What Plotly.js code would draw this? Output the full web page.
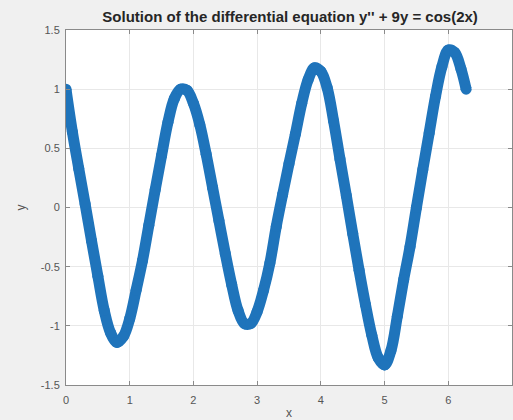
<!DOCTYPE html>
<html>
<head>
<meta charset="utf-8">
<script src="https://cdn.plot.ly/plotly-3.0.1.min.js"></script>
<style>
  html, body { margin: 0; padding: 0; background: #f0f0f0; }
  #plot { width: 513px; height: 420px; }
</style>
</head>
<body>
<div id="plot"></div>
<script>
// Sampled solution points of y'' + 9y = cos(2x) on [0, 2π]
const xValues = [
  0.0, 0.1, 0.2, 0.3, 0.4, 0.5, 0.6, 0.7, 0.8, 0.9,
  1.0, 1.1, 1.2, 1.3, 1.4, 1.5, 1.6, 1.7, 1.8, 1.9,
  2.0, 2.1, 2.2, 2.3, 2.4, 2.5, 2.6, 2.7, 2.8, 2.9,
  3.0, 3.1, 3.2, 3.3, 3.4, 3.5, 3.6, 3.7, 3.8, 3.9,
  4.0, 4.1, 4.2, 4.3, 4.4, 4.5, 4.6, 4.7, 4.8, 4.9,
  5.0, 5.1, 5.2, 5.3, 5.4, 5.5, 5.6, 5.7, 5.8, 5.9,
  6.0, 6.1, 6.2, 6.28
];
const yValues = [
  1.00, 0.64, 0.33, 0.03, -0.28, -0.58, -0.87, -1.06, -1.14, -1.09,
  -0.94, -0.70, -0.45, -0.15, 0.15, 0.44, 0.72, 0.92, 1.00, 0.99,
  0.88, 0.70, 0.45, 0.17, -0.11, -0.39, -0.65, -0.87, -0.98, -0.98,
  -0.88, -0.70, -0.47, -0.16, 0.11, 0.37, 0.62, 0.88, 1.08, 1.18,
  1.15, 1.01, 0.73, 0.41, 0.10, -0.22, -0.53, -0.82, -1.08, -1.27,
  -1.33, -1.21, -0.92, -0.61, -0.33, 0.00, 0.32, 0.63, 0.94, 1.19,
  1.33, 1.31, 1.17, 1.00
];

const xTickVals = [0, 1, 2, 3, 4, 5, 6, 7];
const xTickText = ['0', '1', '2', '3', '4', '5', '6', '7'];
const yTickVals = [-1.5, -1, -0.5, 0, 0.5, 1, 1.5];
const yTickText = ['-1.5', '-1', '-0.5', '0', '0.5', '1', '1.5'];

const FONT = 'Liberation Sans, Arial, sans-serif';
const CURVE_COLOR = '#1f74bb';

const trace = {
  x: xValues,
  y: yValues,
  type: 'scatter',
  mode: 'lines+markers',
  line: { color: CURVE_COLOR, width: 11, shape: 'spline', smoothing: 1.0 },
  marker: { color: CURVE_COLOR, size: 11, symbol: 'circle', line: { width: 0 } },
  hoverinfo: 'skip'
};

const axisCommon = {
  showline: true,
  linecolor: '#8a8a8a',
  linewidth: 1,
  mirror: 'ticks',
  ticks: 'inside',
  ticklen: 4,
  tickcolor: '#8a8a8a',
  showgrid: true,
  gridcolor: '#e8e8e8',
  gridwidth: 1,
  zeroline: false,
  tickfont: { family: FONT, size: 11, color: '#555555' }
};

const layout = {
  width: 513,
  height: 420,
  margin: { l: 66, r: 1, t: 30, b: 35 },
  paper_bgcolor: '#f0f0f0',
  plot_bgcolor: '#ffffff',
  showlegend: false,
  title: {
    text: "<b>Solution of the differential equation y'' + 9y = cos(2x)</b>",
    font: { family: FONT, size: 15, color: '#262626' },
    x: 0.5655,
    xanchor: 'center',
    y: 0.9595,
    yanchor: 'middle'
  },
  xaxis: Object.assign({}, axisCommon, {
    range: [0, 7],
    tickvals: xTickVals,
    ticktext: xTickText,
    ticklabelstandoff: 5,
    title: { text: 'x', font: { family: FONT, size: 12, color: '#555555' }, standoff: 17 }
  }),
  yaxis: Object.assign({}, axisCommon, {
    range: [-1.5, 1.5],
    tickvals: yTickVals,
    ticktext: yTickText,
    ticklabelstandoff: 3,
    title: { text: 'y', font: { family: FONT, size: 12, color: '#555555' }, standoff: 12 }
  })
};

Plotly.newPlot('plot', [trace], layout, { displayModeBar: false, staticPlot: true });
</script>
</body>
</html>
